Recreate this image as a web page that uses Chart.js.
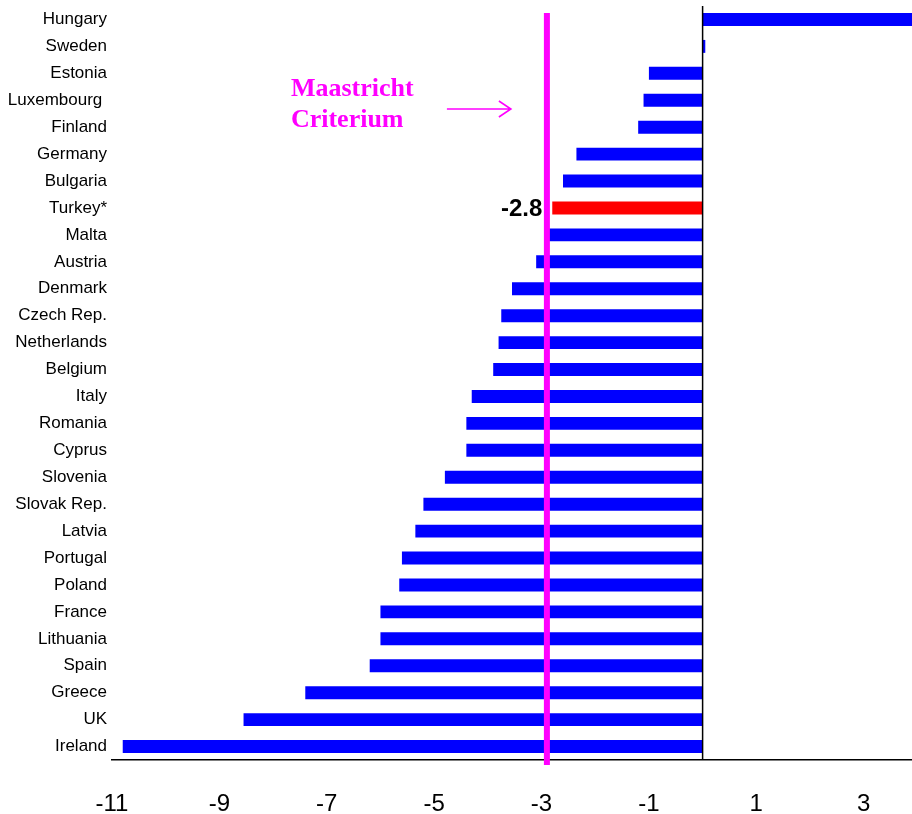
<!DOCTYPE html>
<html>
<head>
<meta charset="utf-8">
<title>Budget balance</title>
<script src="https://cdn.jsdelivr.net/npm/chart.js@4.4.1/dist/chart.umd.min.js"></script>
<style>
  html, body { margin: 0; padding: 0; background: #ffffff; }
  #wrap { width: 912px; height: 814px; position: relative; }
</style>
</head>
<body>
<div id="wrap"><canvas id="chart" width="912" height="814"></canvas></div>
<script>
// Countries, top to bottom
const countries = [
  'Hungary', 'Sweden', 'Estonia', 'Luxembourg ', 'Finland', 'Germany', 'Bulgaria',
  'Turkey*', 'Malta', 'Austria', 'Denmark', 'Czech Rep.', 'Netherlands', 'Belgium',
  'Italy', 'Romania', 'Cyprus', 'Slovenia', 'Slovak Rep.', 'Latvia', 'Portugal',
  'Poland', 'France', 'Lithuania', 'Spain', 'Greece', 'UK', 'Ireland'
];

// Balance values (% of GDP)
const balances = [
  3.9, 0.05, -1.0, -1.1, -1.2, -2.35, -2.6,
  -2.8, -2.9, -3.1, -3.55, -3.75, -3.8, -3.9,
  -4.3, -4.4, -4.4, -4.8, -5.2, -5.35, -5.6,
  -5.65, -6.0, -6.0, -6.2, -7.4, -8.55, -10.8
];

// Highlighted country and its value label
const highlightCountry = 'Turkey*';
const highlightLabel = '-2.8';

// Axis ticks
const xTickValues = [-11, -9, -7, -5, -3, -1, 1, 3];
const xMin = -11;
const xMax = 3.9;

// Reference line for the Maastricht criterion
const criterionLineAt = -2.9;
const criterionText = ['Maastricht', 'Criterium'];

const BLUE = '#0000ff';
const RED = '#ff0000';
const MAGENTA = '#ff00ff';

const barColors = countries.map(c => c === highlightCountry ? RED : BLUE);

// Zero line, criterion line, annotation and value label
const overlayPlugin = {
  id: 'overlay',
  afterDatasetsDraw(chart) {
    const { ctx, chartArea, scales } = chart;
    const xs = scales.x;

    // vertical zero line
    const x0 = xs.getPixelForValue(0);
    ctx.save();
    ctx.strokeStyle = '#000000';
    ctx.lineWidth = 1.5;
    ctx.beginPath();
    ctx.moveTo(x0, chartArea.top);
    ctx.lineTo(x0, chartArea.bottom);
    ctx.stroke();

    // criterion line
    const xc = xs.getPixelForValue(criterionLineAt);
    ctx.strokeStyle = MAGENTA;
    ctx.lineWidth = 6;
    ctx.beginPath();
    ctx.moveTo(xc, chartArea.top + 7);
    ctx.lineTo(xc, chartArea.bottom + 5);
    ctx.stroke();

    // annotation text
    ctx.fillStyle = MAGENTA;
    ctx.font = 'bold 26px "Liberation Serif", "Times New Roman", serif';
    ctx.textAlign = 'left';
    ctx.textBaseline = 'alphabetic';
    const tx = xc - 256;
    ctx.fillText(criterionText[0], tx, chartArea.top + 90);
    ctx.fillText(criterionText[1], tx, chartArea.top + 121);

    // arrow
    const ay = chartArea.top + 103;
    const aStart = xc - 100;
    const aEnd = xc - 36;
    ctx.lineWidth = 1.6;
    ctx.beginPath();
    ctx.moveTo(aStart, ay);
    ctx.lineTo(aEnd, ay);
    ctx.moveTo(aEnd - 12, ay - 8);
    ctx.lineTo(aEnd, ay);
    ctx.lineTo(aEnd - 12, ay + 8);
    ctx.stroke();

    // value label of the highlighted bar
    const idx = countries.indexOf(highlightCountry);
    const bar = chart.getDatasetMeta(0).data[idx];
    ctx.fillStyle = '#000000';
    ctx.font = 'bold 24px "Liberation Sans", Arial, sans-serif';
    ctx.textAlign = 'right';
    ctx.textBaseline = 'middle';
    ctx.fillText(highlightLabel, bar.x - 10, bar.y + 1);
    ctx.restore();
  }
};

new Chart(document.getElementById('chart'), {
  type: 'bar',
  data: {
    labels: countries,
    datasets: [{
      data: balances,
      backgroundColor: barColors,
      borderWidth: 0,
      barPercentage: 0.48,
      categoryPercentage: 1.0
    }]
  },
  options: {
    indexAxis: 'y',
    responsive: false,
    animation: false,
    layout: { padding: { top: 6, right: 0, left: 0, bottom: 0 } },
    plugins: {
      legend: { display: false },
      tooltip: { enabled: false },
      title: { display: false }
    },
    scales: {
      x: {
        type: 'linear',
        min: xMin,
        max: xMax,
        afterBuildTicks(scale) {
          scale.ticks = xTickValues.map(v => ({ value: v }));
        },
        afterFit(scale) {
          scale.height = 54;
          scale.paddingLeft = 0;
          scale.paddingRight = 0;
        },
        grid: { display: false, drawTicks: false },
        border: { display: true, color: '#000000', width: 1.5 },
        ticks: {
          color: '#000000',
          padding: 30,
          maxRotation: 0,
          autoSkip: false,
          font: { family: '"Liberation Sans", Arial, sans-serif', size: 24 },
          callback: v => String(v)
        }
      },
      y: {
        afterFit(scale) {
          scale.width = 112;
          scale.paddingTop = 0;
          scale.paddingBottom = 0;
        },
        grid: { display: false, drawTicks: false },
        border: { display: false },
        ticks: {
          color: '#000000',
          padding: 5,
          autoSkip: false,
          font: { family: '"Liberation Sans", Arial, sans-serif', size: 17 }
        }
      }
    }
  },
  plugins: [overlayPlugin]
});
</script>
</body>
</html>
